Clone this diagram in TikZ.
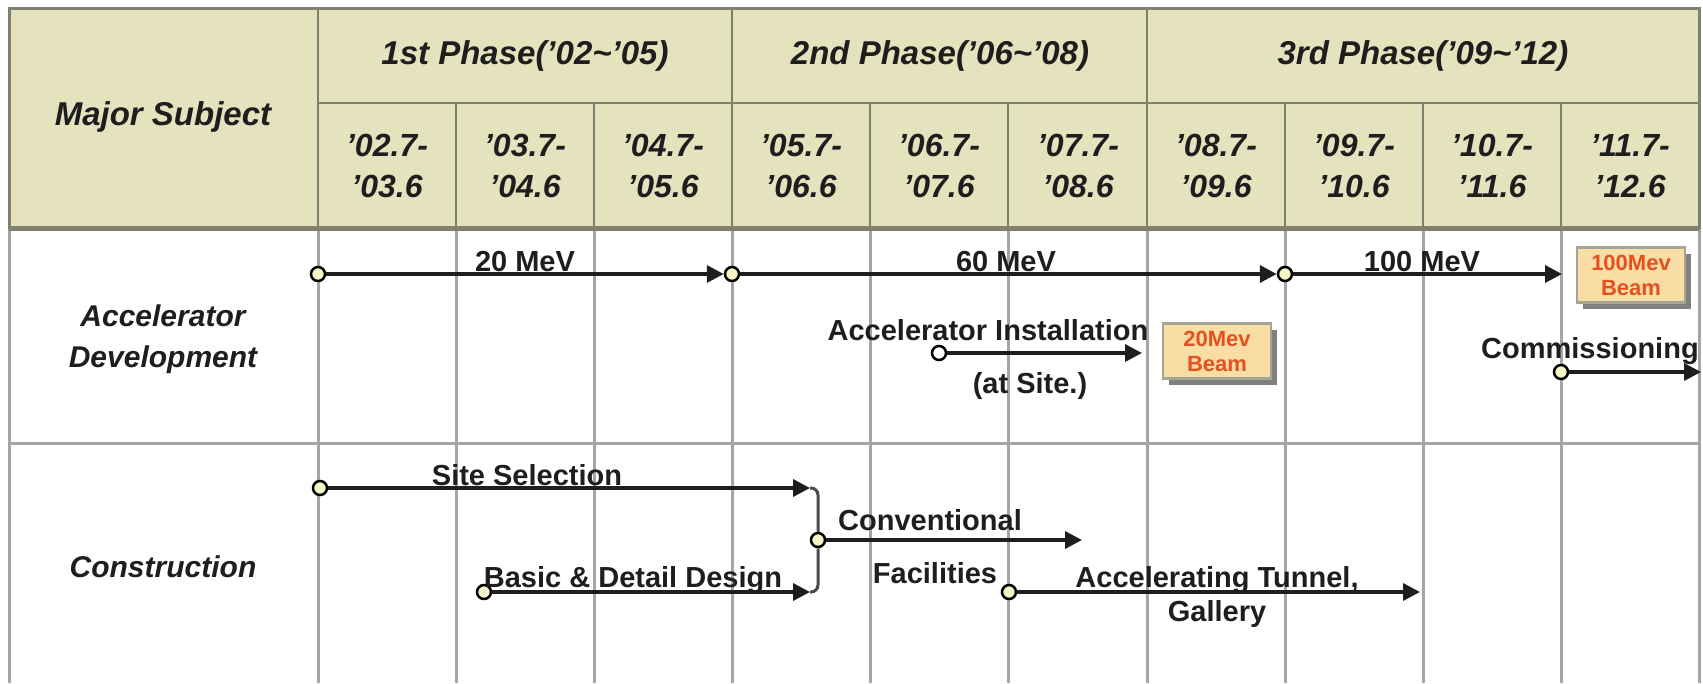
\documentclass[tikz,border=0pt]{standalone}
\usepackage{fontspec}
\setmainfont{Liberation Sans}
\usetikzlibrary{arrows.meta,shadows}
\definecolor{hdrfill}{RGB}{229,227,190}
\definecolor{hdrline}{RGB}{128,128,112}
\definecolor{gridc}{RGB}{165,165,165}
\definecolor{boxfill}{RGB}{248,222,165}
\definecolor{boxline}{RGB}{165,165,150}
\definecolor{boxtext}{RGB}{228,80,30}
\definecolor{dotfill}{RGB}{245,245,195}
\definecolor{ink}{RGB}{30,30,30}
\begin{document}
\begin{tikzpicture}[x=1pt,y=-1pt,
  gridline/.style={gridc,line width=3pt},
  hline/.style={hdrline,line width=2.5pt},
  hborder/.style={hdrline,line width=3pt},
  hdr/.style={font=\fontsize{33}{38}\selectfont\bfseries\itshape,text=ink,inner sep=0pt},
  datelbl/.style={font=\fontsize{32}{41}\selectfont\bfseries\itshape,text=ink,align=center,inner sep=0pt},
  rowlbl/.style={font=\fontsize{30}{41}\selectfont\bfseries\itshape,text=ink,align=center,inner sep=0pt},
  lbl/.style={font=\fontsize{29}{34}\selectfont\bfseries,text=ink,inner sep=0pt},
  dot/.style={circle,draw=black,line width=2.5pt,fill=dotfill,minimum size=14pt,inner sep=0pt},
  wdot/.style={dot,fill=white},
  arr/.style={draw=ink,line width=3.5pt,-{Triangle[length=17pt,width=17pt]}},
  brk/.style={draw=ink!80,line width=3pt,rounded corners=7pt},
  beam/.style={draw=boxline,line width=2.5pt,fill=boxfill,minimum width=108pt,minimum height=55pt,
    text=boxtext,align=center,inner sep=0pt,font=\fontsize{22}{25}\selectfont\bfseries,
    drop shadow={shadow xshift=6pt,shadow yshift=-6pt,fill=black!50,opacity=1}}]
\useasboundingbox (0,0) rectangle (1703,683);
% header background
\fill[hdrfill] (9,8) rectangle (1699,227);
% body grid
\foreach \x in {9,318,456,594,732,870,1008,1147,1285,1423,1561,1699}
  \draw[gridline] (\x,227) -- (\x,683);
\draw[gridline] (9,443) -- (1699,443);
% header lines
\draw[hline] (318,103) -- (1699,103);
\foreach \x in {456,594,870,1008,1285,1423,1561}
  \draw[hline] (\x,103) -- (\x,227);
\foreach \x in {318,732,1147}
  \draw[hline] (\x,8) -- (\x,227);
\draw[hborder] (9,8) rectangle (1699,227);
\draw[hdrline,line width=5pt] (9,228) -- (1699,228);
% header texts
\node[hdr] (ms) at (163,117) {Major Subject};
\node[hdr] (p1) at (525,56) {1st Phase('02\textasciitilde'05)};
\node[hdr] (p2) at (940,56) {2nd Phase('06\textasciitilde'08)};
\node[hdr] (p3) at (1423,56) {3rd Phase('09\textasciitilde'12)};
\node[datelbl] (d1) at (387,166) {'02.7-\\'03.6};
\node[datelbl] (d2) at (525,166) {'03.7-\\'04.6};
\node[datelbl] (d3) at (663,166) {'04.7-\\'05.6};
\node[datelbl] (d4) at (801,166) {'05.7-\\'06.6};
\node[datelbl] (d5) at (939,166) {'06.7-\\'07.6};
\node[datelbl] (d6) at (1078,166) {'07.7-\\'08.6};
\node[datelbl] (d7) at (1216,166) {'08.7-\\'09.6};
\node[datelbl] (d8) at (1354,166) {'09.7-\\'10.6};
\node[datelbl] (d9) at (1492,166) {'10.7-\\'11.6};
\node[datelbl] (d10) at (1630,166) {'11.7-\\'12.6};
% row labels
\node[rowlbl] (rA) at (163,339) {Accelerator\\Development};
\node[rowlbl] (rC) at (163,567) {Construction};
% accelerator row
\node[dot] (a1) at (318,274) {};
\node[dot] (a2) at (732,274) {};
\node[dot] (a3) at (1285,274) {};
\coordinate (a4) at (1562,274);
\draw[arr] (a1) -- (a2);
\draw[arr] (a2) -- (a3);
\draw[arr] (a3) -- (a4);
\node[lbl,anchor=base] (l20) at (525,271) {20 MeV};
\node[lbl,anchor=base] (l60) at (1006,271) {60 MeV};
\node[lbl,anchor=base] (l100) at (1422,271) {100 MeV};
\node[beam] (b100) at (1631,275) {100Mev\\Beam};
\node[wdot] (ai) at (939,353) {};
\coordinate (aiT) at (1142,353);
\draw[arr] (ai) -- (aiT);
\node[lbl,anchor=base] (aiL) at (988,340) {Accelerator Installation};
\node[lbl,anchor=base] (aiL2) at (1030,393) {(at Site.)};
\node[beam] (b20) at (1217,351) {20Mev\\Beam};
\node[dot] (cm) at (1561,372) {};
\coordinate (cmT) at (1701,372);
\draw[arr] (cm) -- (cmT);
\node[lbl,anchor=base west] (cmL) at (1481,358) {Commissioning};
% construction row
\node[dot] (ss) at (320,488) {};
\coordinate (ssT) at (810,488);
\node[dot] (bd) at (484,592) {};
\coordinate (bdT) at (810,592);
\node[dot] (cf) at (818,540) {};
\coordinate (cfT) at (1082,540);
\node[dot] (at) at (1009,592) {};
\coordinate (atT) at (1420,592);
\draw[brk] (ssT) -| (cf);
\draw[brk] (bdT) -| (cf);
\draw[arr] (ss) -- (ssT);
\draw[arr] (bd) -- (bdT);
\draw[arr] (cf) -- (cfT);
\draw[arr] (at) -- (atT);
\node[lbl,anchor=base] (ssL) at (527,485) {Site Selection};
\node[lbl,anchor=base] (bdL) at (633,587) {Basic \& Detail Design};
\node[lbl,anchor=base] (cfL1) at (930,530) {Conventional};
\node[lbl,anchor=base] (cfL2) at (935,583) {Facilities};
\node[lbl,anchor=base] (atL1) at (1217,587) {Accelerating Tunnel,};
\node[lbl,anchor=base] (atL2) at (1217,621) {Gallery};
\end{tikzpicture}
\end{document}
